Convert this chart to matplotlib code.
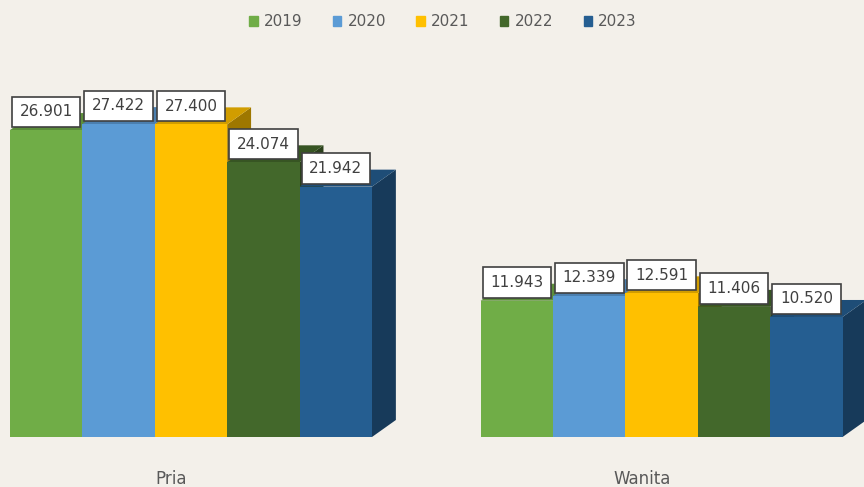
import matplotlib.pyplot as plt
from matplotlib.patches import Patch, Polygon
from matplotlib.colors import to_rgb

# data
years = ['2019', '2020', '2021', '2022', '2023']
groups = ['Pria', 'Wanita']
pria = [26.901, 27.422, 27.400, 24.074, 21.942]
wanita = [11.943, 12.339, 12.591, 11.406, 10.520]
labels_pria = ['26.901', '27.422', '27.400', '24.074', '21.942']
labels_wanita = ['11.943', '12.339', '12.591', '11.406', '10.520']

colors = ['#70ad47', '#5b9bd5', '#ffc000', '#43682b', '#255e91']
bg = '#f3f0ea'
txt = '#595959'


def shade(c, f):
    r, g, b = to_rgb(c)
    return (r * f, g * f, b * f)


fig = plt.figure(figsize=(8.64, 4.87), dpi=100, facecolor=bg)
ax = fig.add_axes([0, 0, 1, 1])
ax.set_facecolor(bg)
ax.axis('off')
ax.set_xlim(-0.638, 11.296)
ax.set_ylim(-4.382, 38.30)

group_offset = 6.5
dx, dy = 0.33, 1.49
z = 2
for g, (vals, labs) in enumerate([(pria, labels_pria), (wanita, labels_wanita)]):
    for i, (v, lab) in enumerate(zip(vals, labs)):
        c = g * group_offset + i
        ax.bar(c, v, width=1.0, color=colors[i], zorder=z)
        side = [(c + 0.5, 0), (c + 0.5 + dx, dy), (c + 0.5 + dx, v + dy), (c + 0.5, v)]
        top = [(c - 0.5, v), (c - 0.5 + dx, v + dy), (c + 0.5 + dx, v + dy), (c + 0.5, v)]
        ax.add_patch(Polygon(side, closed=True, color=shade(colors[i], 0.62), zorder=z - 0.5, lw=0))
        ax.add_patch(Polygon(top, closed=True, color=shade(colors[i], 0.82), zorder=z - 0.5, lw=0))
        ax.text(c, v + 1.6, lab, ha='center', va='center', fontsize=11, color='#404040', zorder=20,
                bbox=dict(boxstyle='square,pad=0.5', fc='white', ec='#404040', lw=1.2))
        z += 1
    ax.text(g * group_offset + 2 - 0.27, -3.65, groups[g], ha='center', va='center',
            fontsize=12, color=txt)

handles = [Patch(color=c, label=y) for c, y in zip(colors, years)]
fig.legend(handles=handles, loc='center', bbox_to_anchor=(443 / 864, 1 - 22 / 487), ncol=5,
           frameon=False, fontsize=11, labelcolor=txt, handlelength=0.55, handleheight=0.55,
           handletextpad=0.4, columnspacing=2.0)

fig.savefig('out.png', dpi=100, facecolor=bg)
